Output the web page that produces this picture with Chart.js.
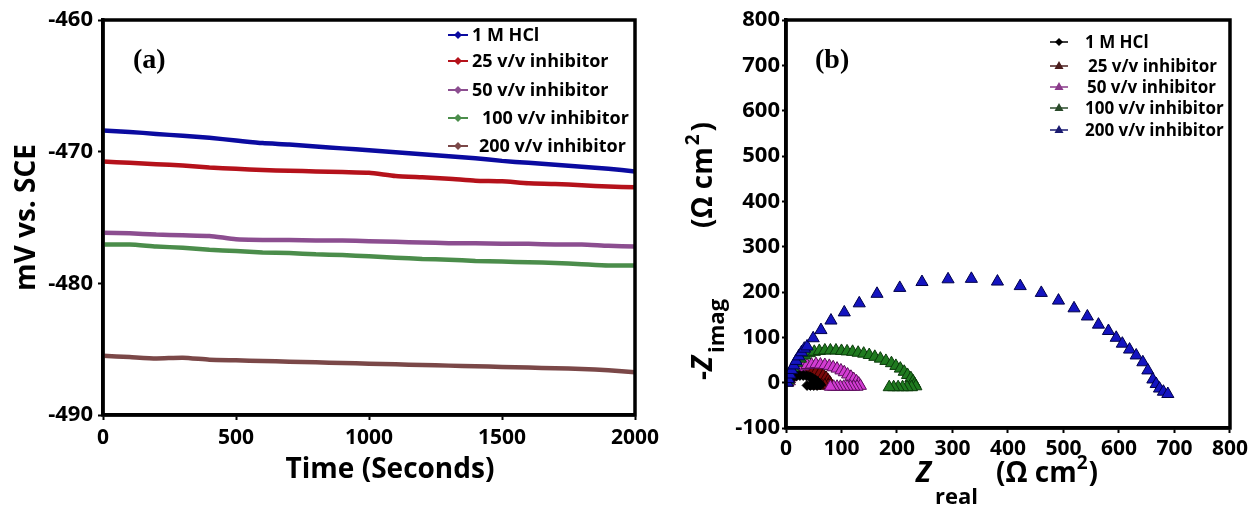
<!DOCTYPE html>
<html><head><meta charset="utf-8">
<script src="https://cdn.jsdelivr.net/npm/chart.js@4.4.1/dist/chart.umd.min.js"></script>
<style>
html,body{margin:0;padding:0;background:#fff;}
#wrap{position:relative;width:1251px;height:511px;overflow:hidden;background:#fff;}
.pane{position:absolute;top:0;}
</style></head><body>
<div id="wrap">
  <div class="pane" style="left:0;width:670px;height:511px"><canvas id="ca" width="670" height="511"></canvas></div>
  <div class="pane" style="left:670px;width:581px;height:511px"><canvas id="cb" width="581" height="511"></canvas></div>
</div>
<script>
// ---------- DATA ----------
const seriesNames = ["1 M HCl", "25 v/v inhibitor", "50 v/v inhibitor", "100 v/v inhibitor", "200 v/v inhibitor"];

// Panel (a): open-circuit potential vs time
const timeSeconds = [0,100,200,300,400,500,600,700,800,900,1000,1100,1200,1300,1400,1500,1600,1700,1800,1900,2000];
const ocpHCl  = [-468.4,-468.5,-468.65,-468.8,-468.95,-469.15,-469.35,-469.45,-469.6,-469.75,-469.9,-470.05,-470.2,-470.35,-470.5,-470.7,-470.85,-471.0,-471.15,-471.3,-471.5];
const ocp25   = [-470.75,-470.85,-470.95,-471.05,-471.2,-471.3,-471.4,-471.45,-471.5,-471.55,-471.6,-471.85,-471.95,-472.05,-472.2,-472.25,-472.4,-472.45,-472.55,-472.65,-472.7];
const ocp50   = [-476.15,-476.2,-476.3,-476.35,-476.4,-476.65,-476.7,-476.7,-476.75,-476.75,-476.8,-476.85,-476.9,-476.95,-476.95,-477.0,-477.0,-477.05,-477.05,-477.15,-477.2];
const ocp100  = [-477.05,-477.05,-477.2,-477.3,-477.45,-477.55,-477.65,-477.7,-477.8,-477.85,-477.95,-478.05,-478.15,-478.2,-478.3,-478.35,-478.4,-478.45,-478.55,-478.65,-478.65];
const ocp200  = [-485.5,-485.6,-485.7,-485.65,-485.8,-485.85,-485.9,-485.95,-486.0,-486.05,-486.1,-486.15,-486.2,-486.25,-486.3,-486.35,-486.4,-486.45,-486.5,-486.6,-486.75];
const ocpTicksY = [-490, -480, -470, -460];
const ocpTicksX = [0, 500, 1000, 1500, 2000];

// Panel (b): Nyquist plots
const zReHCl  = [2,5,9,14,19,25,31,37,43,48,53,57,60,62,56,50,44,38];
const zImHCl  = [2,6,10,13,15,16,16,15,13,10,6,2,-2,-5,-6,-6,-6,-6];
const zRe25   = [3,6,10,15,21,28,35,42,49,55,61,67,72,76,79,81,76,70,64,58,52];
const zIm25   = [0,8,15,20,24,27,28,28,27,25,21,16,11,5,0,-4,-6,-6,-6,-6,-6];
const zRe50   = [6,9,13,18,24,31,38,46,54,62,70,78,85,92,99,105,111,117,122,127,131,134,128,122,116,110,104,98,92,86,80];
const zIm50   = [3,12,20,27,32,36,39,40,41,40,39,37,34,31,27,23,18,13,8,3,-2,-7,-9,-9,-9,-9,-9,-9,-9,-9,-9];
const zRe100  = [4,8,13,19,26,34,42,51,60,70,80,90,100,110,120,130,140,150,160,170,180,190,198,206,213,219,225,229,232,234,226,218,210,202,194,186];
const zIm100  = [5,18,32,44,53,60,65,68,70,71,71,71,70,69,68,66,64,61,57,53,48,43,37,31,24,17,10,3,-3,-8,-10,-10,-10,-10,-10,-10];
const zRe200  = [2,4,7,10,14,18,23,28,33,38,49,63,81,105,132,164,205,245,292,334,381,422,460,491,519,543,563,581,595,606,619,631,643,652,661,667,673,680,688];
const zIm200  = [0,8,18,28,38,48,58,67,75,80,98,116,137,155,175,196,209,222,228,229,223,213,198,181,164,146,128,114,99,86,73,60,45,27,7,-3,-13,-20,-25];
const nyqTicksY = [-100,0,100,200,300,400,500,600,700,800];
const nyqTicksX = [0,100,200,300,400,500,600,700,800];

// ---------- STYLE ----------
const FONT = '"Open Sans", "DejaVu Sans", sans-serif';
Chart.defaults.font.family = FONT;
Chart.defaults.color = '#000';

const lineColors = ['#0b0ba0', '#b5121b', '#8c4e90', '#4b8d4b', '#7b4848'];
const triFill   = ['#000000', '#7a0a0a', '#d23cd2', '#1f7a1f', '#1414c0'];
const triEdge   = ['#000000', '#2e0000', '#5a105a', '#0a3a0a', '#00004a'];
const plainNum = v => String(v);

const framePlugin = {
  id: 'frame',
  afterDatasetsDraw(chart) {
    const {ctx, chartArea: a} = chart;
    ctx.save();
    ctx.strokeStyle = '#000';
    ctx.lineWidth = 3.5;
    ctx.strokeRect(a.left, a.top, a.right - a.left, a.bottom - a.top);
    ctx.restore();
  }
};

function panelLabel(text, x, y) {
  return {
    id: 'plabel' + text.replace(/\W/g, ''),
    afterDraw(chart) {
      const ctx = chart.ctx;
      ctx.save();
      ctx.fillStyle = '#000';
      ctx.font = 'bold 28px "Liberation Serif", "DejaVu Serif", serif';
      ctx.textBaseline = 'alphabetic';
      ctx.fillText(text, x, y);
      ctx.restore();
    }
  };
}

// ---------- PANEL A ----------
const legendA = {
  id: 'legendA',
  afterDraw(chart) {
    const ctx = chart.ctx;
    const rows = [35, 61, 90, 118, 146];
    const tx = [472, 472, 472, 482, 479];
    ctx.save();
    chart.data.datasets.forEach((ds, i) => {
      const y = rows[i];
      ctx.strokeStyle = ds.borderColor;
      ctx.lineWidth = 2;
      ctx.beginPath(); ctx.moveTo(448, y); ctx.lineTo(468, y); ctx.stroke();
      ctx.fillStyle = ds.borderColor;
      ctx.beginPath();
      ctx.moveTo(458, y - 4); ctx.lineTo(462, y); ctx.lineTo(458, y + 4); ctx.lineTo(454, y);
      ctx.closePath(); ctx.fill();
      ctx.fillStyle = '#000';
      ctx.font = 'bold 18px ' + FONT;
      ctx.textBaseline = 'middle';
      ctx.fillText(ds.label, tx[i], y + 1);
    });
    // x-axis title (sits right of centre in the reference)
    ctx.font = 'bold 28px ' + FONT;
    ctx.textAlign = 'center';
    ctx.textBaseline = 'middle';
    ctx.fillText('Time (Seconds)', 390, 470);
    ctx.restore();
  }
};

const ocpSeries = [ocpHCl, ocp25, ocp50, ocp100, ocp200];
new Chart(document.getElementById('ca'), {
  type: 'line',
  data: {
    datasets: ocpSeries.map((vals, i) => ({
      label: seriesNames[i],
      data: timeSeconds.map((t, k) => ({x: t, y: vals[k]})),
      borderColor: lineColors[i],
      backgroundColor: lineColors[i],
      borderWidth: 4.5,
      pointRadius: 0,
      tension: 0.2,
      fill: false
    }))
  },
  options: {
    responsive: false,
    animation: false,
    layout: {padding: {left: 0, top: 20, right: 35, bottom: 0}},
    plugins: {legend: {display: false}, tooltip: {enabled: false}},
    scales: {
      x: {
        type: 'linear', min: 0, max: 2000,
        afterFit(s) { s.height = 96; },
        afterBuildTicks(s) { s.ticks = ocpTicksX.map(v => ({value: v})); },
        border: {display: true, color: '#000', width: 3.5},
        grid: {display: true, drawOnChartArea: false, drawTicks: true, tickLength: 5, tickColor: '#000', tickWidth: 2},
        ticks: {font: {size: 21, weight: 'bold'}, color: '#000', padding: 5, maxRotation: 0, callback: plainNum},
        title: {display: false}
      },
      y: {
        type: 'linear', min: -490, max: -460,
        afterFit(s) { s.width = 103; },
        afterBuildTicks(s) { s.ticks = ocpTicksY.map(v => ({value: v})); },
        border: {display: true, color: '#000', width: 3.5},
        grid: {display: true, drawOnChartArea: false, drawTicks: true, tickLength: 5, tickColor: '#000', tickWidth: 2},
        ticks: {font: {size: 22, weight: 'bold'}, color: '#000', padding: 5, callback: plainNum},
        title: {display: true, text: 'mV vs. SCE', font: {size: 28, weight: 'bold'}, color: '#000', padding: {top: 10, bottom: 0}}
      }
    }
  },
  plugins: [framePlugin, legendA, panelLabel('(a)', 133, 68)]
});

// ---------- PANEL B ----------
const legendB = {
  id: 'legendB',
  afterDraw(chart) {
    const ctx = chart.ctx;
    const rows = [42, 66, 87, 108, 130];
    const tx = [415, 418, 417, 415, 415];
    ctx.save();
    chart.data.datasets.forEach((ds, i) => {
      const y = rows[i];
      const c = ds.legendColor;
      ctx.strokeStyle = c; ctx.fillStyle = c;
      ctx.lineWidth = 1.5;
      ctx.beginPath(); ctx.moveTo(380, y); ctx.lineTo(398, y); ctx.stroke();
      ctx.beginPath();
      if (i === 0) {
        ctx.moveTo(389, y - 4); ctx.lineTo(393, y); ctx.lineTo(389, y + 4); ctx.lineTo(385, y);
      } else {
        ctx.moveTo(389, y - 5); ctx.lineTo(393.5, y + 3); ctx.lineTo(384.5, y + 3);
      }
      ctx.closePath(); ctx.fill();
      ctx.fillStyle = '#000';
      ctx.font = 'bold 17px ' + FONT;
      ctx.textBaseline = 'middle';
      ctx.fillText(ds.label, tx[i], y + 1);
    });
    ctx.restore();
  }
};

const titlesB = {
  id: 'titlesB',
  afterDraw(chart) {
    const ctx = chart.ctx;
    ctx.save();
    ctx.fillStyle = '#000';
    ctx.textBaseline = 'alphabetic';
    const big = 'bold 28px ' + FONT, bigI = 'italic bold 28px ' + FONT, sub = 'bold 22px ' + FONT, sup = 'bold 19px ' + FONT;
    // x title: Z_real (Ω cm²)
    let x = 246;
    ctx.font = bigI; ctx.fillText('Z', x, 482); x += ctx.measureText('Z').width + 4;
    ctx.font = sub; ctx.fillText('real', x, 504); x = 326;
    ctx.font = big; ctx.fillText('(\u03A9 cm', x, 482); x += ctx.measureText('(\u03A9 cm').width;
    ctx.font = sup; ctx.fillText('2', x, 469); x += ctx.measureText('2').width + 1;
    ctx.font = big; ctx.fillText(')', x, 482);
    // y title rotated: -Z_imag (Ω cm²)
    ctx.translate(42, 0);
    ctx.rotate(-Math.PI / 2);
    let p = -380;
    ctx.font = big; ctx.fillText('-', p, 0); p += ctx.measureText('-').width;
    ctx.font = bigI; ctx.fillText('Z', p, 0); p += ctx.measureText('Z').width + 3;
    ctx.font = sub; ctx.fillText('imag', p, 12);
    p = -228;
    ctx.font = big; ctx.fillText('(\u03A9 cm', p, 0); p += ctx.measureText('(\u03A9 cm').width + 2;
    ctx.font = sup; ctx.fillText('2', p, -13); p += ctx.measureText('2').width + 3;
    ctx.font = big; ctx.fillText(')', p, 0);
    ctx.restore();
  }
};

const nyqRe = [zReHCl, zRe25, zRe50, zRe100, zRe200];
const nyqIm = [zImHCl, zIm25, zIm50, zIm100, zIm200];
const drawOrder = [1, 4, 3, 2, 0];
const legendColors = ['#000', '#4a1c1c', '#8a3a8a', '#2a4a2a', '#1a1a70'];
new Chart(document.getElementById('cb'), {
  type: 'scatter',
  data: {
    datasets: nyqRe.map((re, i) => ({
      label: seriesNames[i],
      data: re.map((x, k) => ({x: x, y: nyqIm[i][k]})),
      pointStyle: i === 0 ? 'rectRot' : 'triangle',
      pointRadius: i === 0 ? 5 : 7,
      pointBackgroundColor: triFill[i],
      pointBorderColor: triEdge[i],
      pointBorderWidth: 1,
      showLine: false,
      order: drawOrder[i],
      legendColor: legendColors[i]
    }))
  },
  options: {
    responsive: false,
    animation: false,
    layout: {padding: {left: 0, top: 20, right: 19, bottom: 0}},
    plugins: {legend: {display: false}, tooltip: {enabled: false}},
    scales: {
      x: {
        type: 'linear', min: 0, max: 800,
        afterFit(s) { s.height = 83; },
        afterBuildTicks(s) { s.ticks = nyqTicksX.map(v => ({value: v})); },
        border: {display: true, color: '#000', width: 3.5},
        grid: {display: true, drawOnChartArea: false, drawTicks: true, tickLength: 5, tickColor: '#000', tickWidth: 2},
        ticks: {font: {size: 21, weight: 'bold'}, color: '#000', padding: 3, maxRotation: 0, callback: plainNum},
        title: {display: false}
      },
      y: {
        type: 'linear', min: -100, max: 800,
        afterFit(s) { s.width = 116; },
        afterBuildTicks(s) { s.ticks = nyqTicksY.map(v => ({value: v})); },
        border: {display: true, color: '#000', width: 3.5},
        grid: {display: true, drawOnChartArea: false, drawTicks: true, tickLength: 4, tickColor: '#000', tickWidth: 2},
        ticks: {font: {size: 22, weight: 'bold'}, color: '#000', padding: 2, callback: plainNum},
        title: {display: false}
      }
    }
  },
  plugins: [framePlugin, legendB, titlesB, panelLabel('(b)', 145, 68)]
});
</script>
</body></html>
